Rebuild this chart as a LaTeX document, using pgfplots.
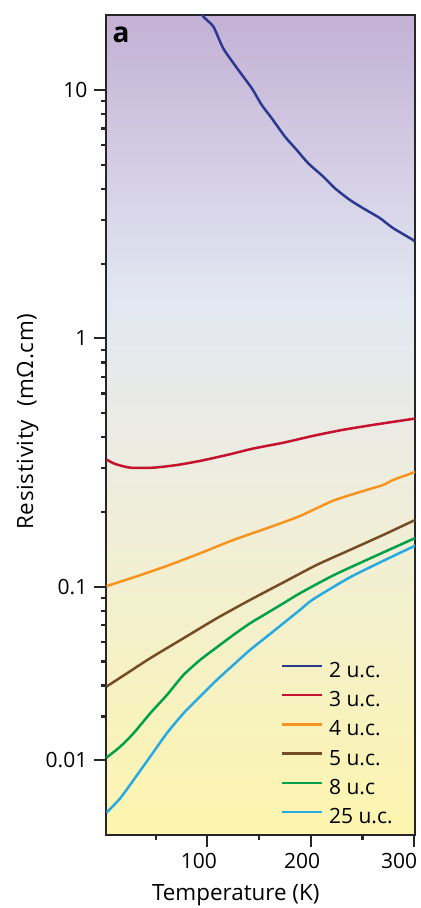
\documentclass[border=0pt]{standalone}
\usepackage{pgfplots}
\pgfplotsset{compat=1.18}
\usepackage{fontspec}
\setmainfont{Open Sans}
\definecolor{c2}{HTML}{2B3990}
\definecolor{c3}{HTML}{C4122F}
\definecolor{c4}{HTML}{F7941D}
\definecolor{c5}{HTML}{754C24}
\definecolor{c8}{HTML}{00A14B}
\definecolor{c25}{HTML}{27AAE1}
\definecolor{bgA}{HTML}{FDF5AE}
\definecolor{bgB}{HTML}{EEEDDE}
\definecolor{bgC}{HTML}{E3E7F2}
\definecolor{bgD}{HTML}{C3B1D5}
\pgfdeclareverticalshading{bgshade}{100bp}{color(0bp)=(bgA); color(25bp)=(bgA); color(46.6bp)=(bgB); color(57.6bp)=(bgC); color(75bp)=(bgD); color(100bp)=(bgD)}
\begin{document}
\begin{tikzpicture}
\begin{axis}[
  scale only axis, width=154.5pt, height=410pt,
  ymode=log, xmin=2, xmax=300.7, ymin=0.01, ymax=20.05,
  axis background/.style={shading=bgshade},
  axis line style={line width=1.1pt, black!85},
  tick align=outside, tick pos=left,
  xtick={100,200}, minor xtick={50,150,250},
  extra x ticks={300},
  extra x tick style={xticklabel style={xshift=-3.3pt}},
  xticklabel style={xshift=-4.3pt},
  ytick={0.02,0.1,1,10}, yticklabels={0.01,0.1,1,10},
  minor ytick={0.03,0.04,0.05,0.06,0.07,0.08,0.09,0.2,0.3,0.4,0.5,0.6,0.7,0.8,0.9,2,3,4,5,6,7,8,9},
  major tick length=5.8pt, minor tick length=2.6pt,
  every tick/.style={black!85, line width=1.1pt},
  /pgf/number format/assume math mode=true,
  ticklabel style={font=\fontsize{10.5}{12}\selectfont},
  label style={font=\fontsize{11.2}{13}\selectfont},
  xlabel={Temperature (K)},
  ylabel={\addfontfeature{LetterSpace=3}Resistivity\ \ (mΩ.cm)},
  xlabel style={at={(axis description cs:0.42,-0.0732)}, anchor=center},
  ylabel style={at={(axis description cs:-0.254,0.504)}, anchor=center},
  every axis plot/.append style={line width=1.25pt, no markers, smooth, tension=0.4},
  legend cell align=left,
  legend image code/.code={\draw[#1, line width=1.25pt] (0pt,3pt) -- (20pt,3pt);},
  legend style={at={(axis description cs:0.565,0.2107)}, anchor=north west, draw=none, fill=none,
    inner sep=0pt, outer sep=0pt, row sep=4.8pt, font=\fontsize{10.5}{12}\selectfont,
    nodes={inner sep=0pt, text height=7.6pt, text depth=2.2pt},
    /tikz/every odd column/.append style={column sep=3pt}},
]
\addplot[c2] coordinates {(90,23) (95.6,19.9) (105.8,18.0) (115.4,14.7) (129.9,12.05) (142.9,10.17) (152.5,8.71) (162.2,7.70) (175.0,6.49) (186.3,5.74) (197.5,5.07) (212.0,4.48) (223.3,4.02) (237.7,3.61) (250.6,3.34) (266.7,3.05) (279.5,2.78) (298.8,2.49) (300.7,2.44)};
\addlegendentry{2 u.c.}
\addplot[c3] coordinates {(2.5,0.325) (10.9,0.312) (25.4,0.3015) (47.9,0.3015) (70.5,0.309) (93.0,0.321) (118.7,0.339) (144.4,0.360) (173.4,0.380) (202.3,0.405) (228.1,0.426) (253.9,0.444) (276.4,0.459) (298.8,0.474) (300.7,0.476)};
\addlegendentry{3 u.c.}
\addplot[c4] coordinates {(2.5,0.1005) (28.6,0.109) (60.8,0.1212) (93.0,0.1363) (125.1,0.1542) (157.3,0.1718) (189.5,0.1926) (221.6,0.2220) (253.9,0.2451) (269.9,0.2568) (279.5,0.2690) (297.3,0.2862) (300.7,0.290)};
\addlegendentry{4 u.c.}
\addplot[c5] coordinates {(2.5,0.0396) (22.3,0.0448) (44.7,0.0515) (76.9,0.0620) (109.1,0.0746) (141.2,0.0884) (173.4,0.1040) (205.6,0.1223) (237.7,0.1405) (269.9,0.1615) (298.8,0.1839) (300.7,0.185)};
\addlegendentry{5 u.c.}
\addplot[c8] coordinates {(2.5,0.0205) (15.7,0.02267) (28.6,0.02568) (44.7,0.0309) (60.8,0.0366) (76.9,0.0441) (93.0,0.0507) (109.1,0.0570) (125.1,0.0639) (141.2,0.0712) (157.3,0.0781) (173.4,0.0857) (189.5,0.0941) (221.6,0.1110) (253.9,0.1281) (298.8,0.1556) (300.7,0.157)};
\addlegendentry{8 u.c}
\addplot[c25] coordinates {(2.5,0.0123) (15.7,0.01405) (28.6,0.01665) (44.7,0.02067) (60.8,0.02568) (76.9,0.0309) (93.0,0.0361) (109.1,0.0421) (125.1,0.0484) (141.2,0.0556) (157.3,0.0629) (173.4,0.0712) (189.5,0.0806) (202.3,0.0890) (237.7,0.1090) (269.9,0.1270) (298.8,0.1449) (300.7,0.146)};
\addlegendentry{25 u.c.}
\node[anchor=center, font=\fontsize{14}{14}\selectfont\bfseries] at (axis description cs:0.0485,0.976) {a};
\end{axis}
\pgfresetboundingbox
\path[use as bounding box] (-53pt,-36.5pt) rectangle (157.5pt,417.5pt);
\end{tikzpicture}
\end{document}
